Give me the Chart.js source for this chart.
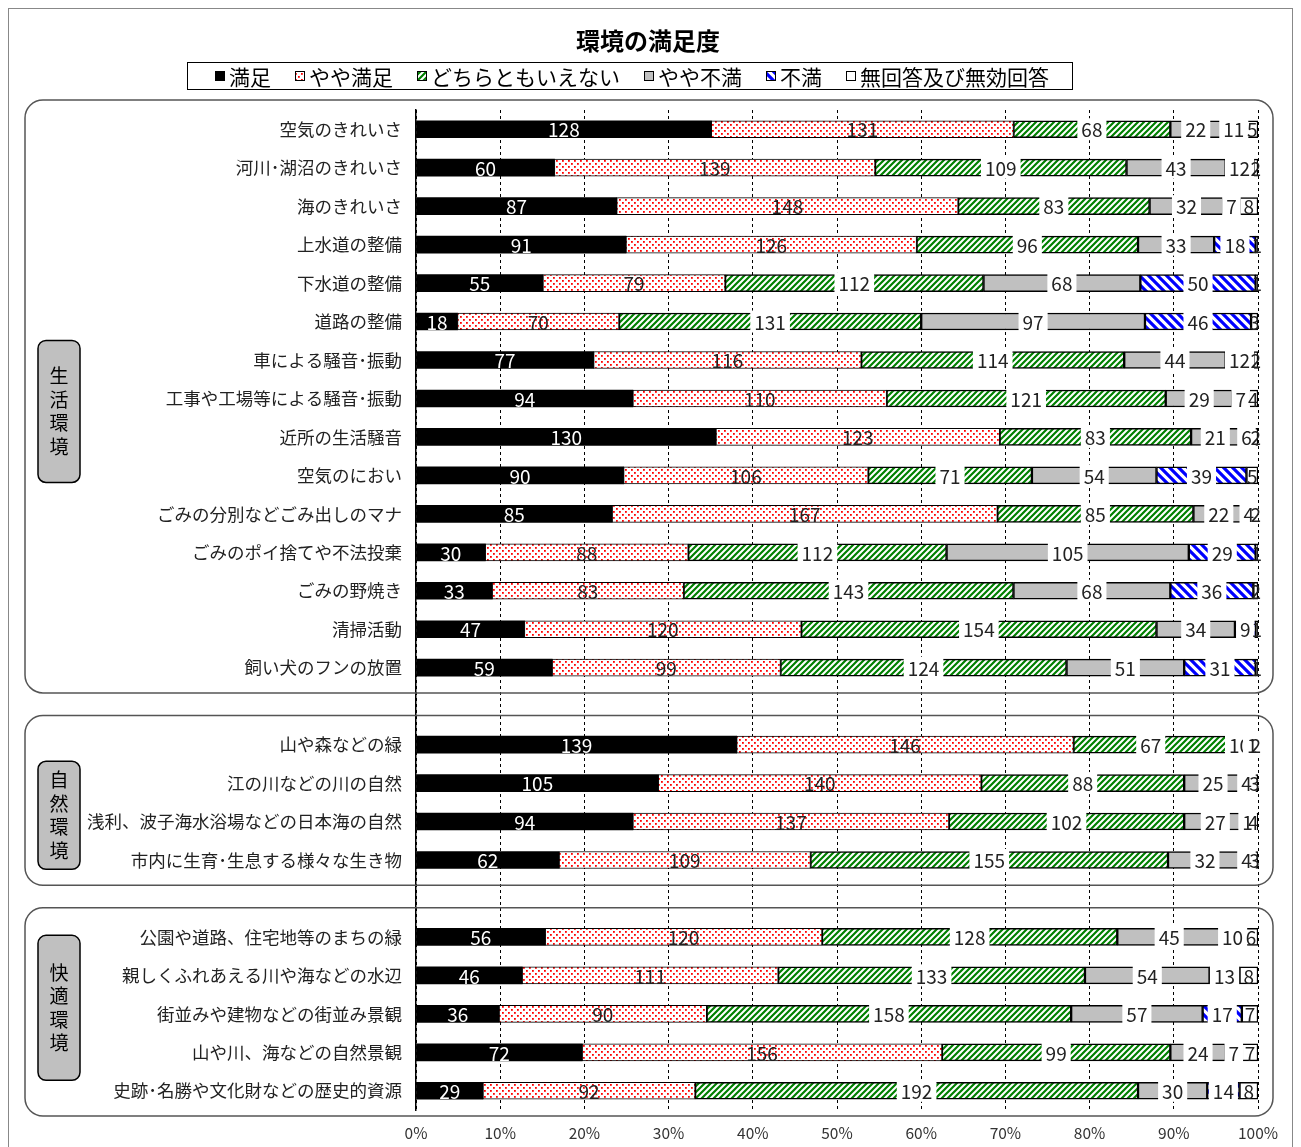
<!DOCTYPE html>
<html>
<head>
<meta charset="utf-8">
<script src="https://cdn.jsdelivr.net/npm/chart.js@4.4.0/dist/chart.umd.min.js"></script>
<style>
  html, body { margin: 0; padding: 0; background: #fff; }
  #wrap { width: 1301px; height: 1147px; }
</style>
</head>
<body>
<div id="wrap"><canvas id="chart" width="1301" height="1147"></canvas></div>
<script>
// ---- data (n = 365 per item) ----
const chartTitle = '環境の満足度';
const groupNames = ['生活環境', '自然環境', '快適環境'];
const livingItems = ['空気のきれいさ', '河川･湖沼のきれいさ', '海のきれいさ', '上水道の整備', '下水道の整備',
  '道路の整備', '車による騒音･振動', '工事や工場等による騒音･振動', '近所の生活騒音', '空気のにおい',
  'ごみの分別などごみ出しのマナ', 'ごみのポイ捨てや不法投棄', 'ごみの野焼き', '清掃活動', '飼い犬のフンの放置'];
const natureItems = ['山や森などの緑', '江の川などの川の自然', '浅利、波子海水浴場などの日本海の自然', '市内に生育･生息する様々な生き物'];
const comfortItems = ['公園や道路、住宅地等のまちの緑', '親しくふれあえる川や海などの水辺', '街並みや建物などの街並み景観',
  '山や川、海などの自然景観', '史跡･名勝や文化財などの歴史的資源'];

const seriesNames = ['満足', 'やや満足', 'どちらともいえない', 'やや不満', '不満', '無回答及び無効回答'];
const manzoku   = [128, 60, 87, 91, 55, 18, 77, 94, 130, 90, 85, 30, 33, 47, 59, 139, 105, 94, 62, 56, 46, 36, 72, 29];
const yayaManzoku = [131, 139, 148, 126, 79, 70, 116, 110, 123, 106, 167, 88, 83, 120, 99, 146, 140, 137, 109, 120, 111, 90, 156, 92];
const dochira   = [68, 109, 83, 96, 112, 131, 114, 121, 83, 71, 85, 112, 143, 154, 124, 67, 88, 102, 155, 128, 133, 158, 99, 192];
const yayaFuman = [22, 43, 32, 33, 68, 97, 44, 29, 21, 54, 22, 105, 68, 34, 51, 10, 25, 27, 32, 45, 54, 57, 24, 30];
const fuman     = [11, 12, 7, 18, 50, 46, 12, 7, 6, 39, 4, 29, 36, 9, 31, 1, 4, 1, 4, 10, 13, 17, 7, 14];
const mukaitou  = [5, 2, 8, 1, 1, 3, 2, 4, 2, 5, 2, 1, 2, 1, 1, 2, 3, 4, 3, 6, 8, 7, 7, 8];
const xTicks = [0, 10, 20, 30, 40, 50, 60, 70, 80, 90, 100];

const FONT = '"Noto Sans CJK JP", "Noto Sans", sans-serif';
const TXT = '#222';

// patterns
function makePattern(w, h, draw) {
  const c = document.createElement('canvas');
  c.width = w; c.height = h;
  const g = c.getContext('2d');
  g.fillStyle = '#fff';
  g.fillRect(0, 0, w, h);
  draw(g, w, h);
  return g.createPattern(c, 'repeat');
}
const dotFill = makePattern(6, 6, g => {
  g.fillStyle = '#ff0000';
  g.fillRect(1, 1, 1.8, 1.8);
  g.fillRect(4, 4, 1.8, 1.8);
});
const greenFill = makePattern(6, 6, g => {
  g.strokeStyle = '#008000';
  g.lineWidth = 2.2;
  g.beginPath();
  g.moveTo(-1, 7); g.lineTo(7, -1);
  g.moveTo(-4, 4); g.lineTo(4, -4);
  g.moveTo(2, 10); g.lineTo(10, 2);
  g.stroke();
});
const blueFill = makePattern(9, 9, g => {
  g.strokeStyle = '#0000ff';
  g.lineWidth = 3.2;
  g.beginPath();
  g.moveTo(-1, -1); g.lineTo(10, 10);
  g.moveTo(-5.5, 3.5); g.lineTo(5.5, 14.5);
  g.moveTo(3.5, -5.5); g.lineTo(14.5, 5.5);
  g.stroke();
});

// build category slots with an empty slot between groups
const groups = [livingItems, natureItems, comfortItems];
const labels = [];
const slotOf = [];
groups.forEach((items, gi) => {
  if (gi > 0) labels.push('');
  items.forEach(name => { slotOf.push(labels.length); labels.push(name); });
});

const rawSeries = [manzoku, yayaManzoku, dochira, yayaFuman, fuman, mukaitou];
const totals = manzoku.map((_, i) => rawSeries.reduce((s, arr) => s + arr[i], 0));
function toSlots(arr, pct) {
  const out = labels.map(() => null);
  arr.forEach((v, i) => { out[slotOf[i]] = pct ? v / totals[i] * 100 : v; });
  return out;
}

const fills = ['#000000', dotFill, greenFill, '#c0c0c0', blueFill, '#ffffff'];
const labelStyle = ['inverse', 'plain', 'box', 'box', 'box', 'plain'];

const datasets = seriesNames.map((name, k) => ({
  label: name,
  data: toSlots(rawSeries[k], true),
  raw: toSlots(rawSeries[k], false),
  backgroundColor: fills[k],
  borderColor: '#000',
  borderWidth: k === 0 ? 0 : (k === 1 ? 1 : 1.5),
  borderSkipped: false,
  barThickness: 17,
  labelStyle: labelStyle[k]
}));

const groupBox = [{ h: 142, dy: 13 }, { h: 108, dy: 13 }, { h: 145, dy: -6 }];

const decorPlugin = {
  id: 'decor',
  beforeDraw(chart) {
    const ctx = chart.ctx;
    ctx.save();
    ctx.fillStyle = '#fff';
    ctx.fillRect(0, 0, chart.width, chart.height);
    ctx.strokeStyle = '#888';
    ctx.lineWidth = 1;
    ctx.strokeRect(8.5, 8.5, chart.width - 17, chart.height - 4);

    // title
    ctx.fillStyle = '#000';
    ctx.font = 'bold 24px ' + FONT;
    ctx.textAlign = 'center';
    ctx.textBaseline = 'middle';
    ctx.fillText(chartTitle, 648, 41);

    // legend
    ctx.font = '21px ' + FONT;
    const gap = 24, mk = 10, mg = 4;
    const widths = seriesNames.map(n => ctx.measureText(n).width);
    const total = widths.reduce((s, w) => s + w + mk + mg, 0) + gap * (seriesNames.length - 1);
    ctx.strokeStyle = '#000';
    ctx.lineWidth = 1;
    ctx.strokeRect(187.5, 62.5, 885, 27);
    let x = 632 - total / 2;
    const cy = 76;
    seriesNames.forEach((n, k) => {
      ctx.fillStyle = fills[k];
      ctx.fillRect(x, cy - 5, mk, mk);
      ctx.strokeRect(x + 0.5, cy - 4.5, mk - 1, mk - 1);
      ctx.fillStyle = '#000';
      ctx.textAlign = 'left';
      ctx.fillText(n, x + mk + mg, cy + 1);
      x += mk + mg + widths[k] + gap;
    });
    ctx.restore();
  },
  afterDatasetsDraw(chart) {
    const ctx = chart.ctx;
    const y = chart.scales.y;
    const slot = y.getPixelForValue(1) - y.getPixelForValue(0);
    ctx.save();
    // group frames and group name boxes
    let idx = 0;
    groups.forEach((items, gi) => {
      const first = y.getPixelForValue(slotOf[idx]);
      const last = y.getPixelForValue(slotOf[idx + items.length - 1]);
      idx += items.length;
      const top = first - slot / 2 - 10, bottom = last + slot / 2 + 6;
      ctx.strokeStyle = '#555';
      ctx.lineWidth = 1.5;
      ctx.beginPath();
      ctx.roundRect(25, top, 1248, bottom - top, 18);
      ctx.stroke();

      const b = groupBox[gi];
      const cyb = (first + last) / 2 + b.dy;
      ctx.fillStyle = '#c0c0c0';
      ctx.strokeStyle = '#000';
      ctx.lineWidth = 1.5;
      ctx.beginPath();
      ctx.roundRect(38, cyb - b.h / 2, 42, b.h, 8);
      ctx.fill();
      ctx.stroke();
      ctx.fillStyle = '#000';
      ctx.font = '19px ' + FONT;
      ctx.textAlign = 'center';
      ctx.textBaseline = 'middle';
      const chars = [...groupNames[gi]];
      chars.forEach((ch, j) => {
        ctx.fillText(ch, 59, cyb + (j - (chars.length - 1) / 2) * 23.5);
      });
    });

    // value labels
    ctx.font = '19px ' + FONT;
    ctx.textAlign = 'center';
    ctx.textBaseline = 'middle';
    chart.data.datasets.forEach((ds, di) => {
      const meta = chart.getDatasetMeta(di);
      meta.data.forEach((bar, i) => {
        const v = ds.raw[i];
        if (v == null) return;
        const p = bar.getProps(['x', 'y', 'base'], true);
        const cx = (p.x + p.base) / 2;
        const t = String(v);
        const tw = ctx.measureText(t).width;
        if (ds.labelStyle === 'box') {
          ctx.fillStyle = '#fff';
          ctx.fillRect(cx - tw / 2 - 4, p.y - 11, tw + 8, 22);
        }
        ctx.fillStyle = ds.labelStyle === 'inverse' ? '#fff' : TXT;
        ctx.fillText(t, cx, p.y + 1);
      });
    });
    ctx.restore();
  }
};

new Chart(document.getElementById('chart'), {
  type: 'bar',
  data: { labels, datasets },
  options: {
    indexAxis: 'y',
    responsive: false,
    animation: false,
    devicePixelRatio: 1,
    layout: { padding: { left: 0, right: 43, top: 110, bottom: 0 } },
    plugins: {
      legend: { display: false },
      tooltip: { enabled: false },
      title: { display: false }
    },
    scales: {
      x: {
        stacked: true,
        min: 0,
        max: 100,
        afterBuildTicks(scale) { scale.ticks = xTicks.map(v => ({ value: v })); },
        afterFit(scale) { scale.height = 37; },
        ticks: {
          callback: v => v + '%',
          color: '#333',
          font: { family: FONT, size: 15.5 },
          padding: 14
        },
        grid: { color: '#000', lineWidth: 1, drawTicks: false },
        border: { display: false, dash: [3, 3] }
      },
      y: {
        stacked: true,
        afterFit(scale) { scale.width = 416; },
        ticks: {
          color: TXT,
          font: { family: FONT, size: 17.5 },
          padding: 6,
          autoSkip: false
        },
        grid: { display: false },
        border: { display: true, color: '#000', width: 1.5 }
      }
    }
  },
  plugins: [decorPlugin]
});
</script>
</body>
</html>
